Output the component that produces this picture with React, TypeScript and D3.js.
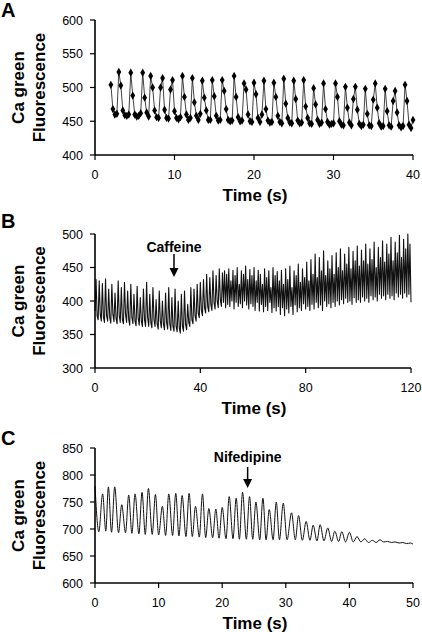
import React from "react";
import * as d3 from "d3";

// ---------- Panel A data (t = 2 s + 0.25 s * index) ----------
const aStart = 2;
const aStep = 0.25;
const aValues = [
  504, 468, 460, 461, 523, 503, 466, 459, 458, 460,
  522, 488, 460, 457, 458, 462, 522, 485, 463, 457,
  517, 500, 466, 456, 455, 500, 514, 467, 455, 454,
  497, 511, 465, 455, 453, 456, 517, 486, 460, 452,
  455, 514, 478, 458, 452, 461, 510, 485, 466, 452,
  452, 511, 487, 458, 451, 452, 511, 495, 468, 452,
  450, 451, 517, 486, 456, 450, 451, 506, 497, 460,
  450, 449, 507, 490, 455, 449, 460, 510, 468, 451,
  448, 449, 507, 486, 458, 449, 447, 513, 476, 455,
  448, 447, 510, 483, 451, 447, 448, 511, 472, 455,
  447, 446, 499, 475, 452, 446, 448, 506, 468, 449,
  445, 446, 447, 506, 486, 450, 445, 444, 501, 470,
  448, 444, 483, 501, 467, 446, 443, 445, 498, 461,
  444, 443, 482, 506, 470, 447, 442, 443, 498, 465,
  444, 442, 480, 495, 463, 444, 441, 443, 504, 480,
  445, 440, 452,
];
const aTicksX = [0, 10, 20, 30, 40];
const aTicksY = [400, 450, 500, 550, 600];

// ---------- Panel B data (t = 0.4 s * index) ----------
const bStep = 0.4;
const bValues = [
  385, 432, 378, 372, 430, 380, 370, 426, 376, 368, 433, 378, 370, 418, 375, 367, 425, 380, 369, 412, 374, 366, 430, 378, 368,
  420, 372, 366, 428, 380, 368, 415, 372, 364, 425, 376, 366, 410, 370, 363, 422, 374, 364, 405, 370, 362, 418, 372, 362, 428,
  375, 362, 410, 368, 360, 420, 372, 362, 402, 366, 358, 415, 370, 360, 400, 365, 357, 412, 368, 358, 420, 366, 356, 405, 362,
  355, 418, 362, 354, 400, 360, 352, 410, 362, 355, 415, 365, 357, 395, 368, 362, 420, 372, 366, 418, 378, 370, 425, 382, 375,
  428, 386, 378, 432, 390, 382, 440, 392, 384, 435, 395, 386, 445, 398, 388, 438, 400, 390, 448, 402, 392, 442, 398, 445, 390,
  440, 395, 448, 392, 430, 400, 446, 388, 438, 398, 450, 392, 425, 396, 445, 390, 440, 400, 452, 394, 432, 388, 447, 396, 438,
  392, 450, 386, 430, 398, 446, 385, 440, 395, 425, 384, 448, 392, 435, 386, 445, 398, 420, 383, 450, 390, 438, 385, 444, 392,
  430, 380, 446, 390, 425, 378, 448, 388, 432, 382, 452, 392, 420, 380, 445, 394, 438, 384, 455, 390, 428, 386, 448, 396, 435,
  388, 458, 392, 430, 386, 462, 395, 440, 388, 470, 398, 435, 390, 465, 394, 445, 386, 475, 400, 438, 392, 460, 396, 448, 390,
  468, 398, 440, 392, 472, 400, 450, 394, 478, 402, 445, 396, 470, 404, 455, 398, 480, 400, 448, 395, 474, 405, 460, 398, 482,
  402, 452, 398, 476, 406, 460, 400, 485, 404, 455, 398, 478, 408, 462, 402, 488, 406, 450, 400, 480, 410, 465, 404, 490, 408,
  458, 402, 485, 410, 470, 404, 495, 408, 460, 402, 488, 412, 472, 406, 498, 410, 465, 404, 492, 412, 478, 406, 500, 410, 485,
  398,
];
const bTicksX = [0, 40, 80, 120];
const bTicksY = [300, 350, 400, 450, 500];
const bCaffeineTime = 30;

// ---------- Panel C data ----------
const cTime = [
  0, 0.6, 1.2, 1.7, 2.1, 2.6, 3.1, 3.7, 4.2, 4.8,
  5.3, 5.8, 6.3, 6.9, 7.4, 7.9, 8.4, 9.0, 9.5, 10.0,
  10.6, 11.1, 11.6, 12.2, 12.7, 13.2, 13.7, 14.3, 14.8, 15.3,
  15.8, 16.4, 16.9, 17.4, 17.9, 18.5, 19.0, 19.5, 20.0, 20.6,
  21.1, 21.7, 22.2, 22.7, 23.2, 23.8, 24.3, 24.8, 25.3, 25.9,
  26.4, 26.9, 27.4, 28.0, 28.5, 29.0, 29.6, 30.2, 30.9, 31.5,
  32.0, 32.6, 33.2, 33.8, 34.3, 34.9, 35.4, 36.0, 36.6, 37.2,
  37.7, 38.3, 38.8, 39.4, 40.0, 40.6, 41.2, 41.8, 42.4, 43.0,
  43.6, 44.2, 44.8, 45.4, 46.0, 46.6, 47.2, 47.8, 48.4, 49.0,
  49.6, 50.0,
];
const cValue = [
  780, 695, 765, 696, 778, 694, 778, 693, 745, 693,
  763, 692, 765, 691, 768, 690, 775, 690, 764, 689,
  742, 688, 765, 688, 766, 687, 762, 686, 766, 686,
  742, 685, 765, 684, 738, 684, 737, 683, 740, 682,
  760, 682, 757, 681, 768, 681, 760, 681, 750, 680,
  757, 680, 736, 680, 750, 680, 748, 680, 730, 680,
  725, 679, 714, 679, 707, 678, 708, 678, 702, 677,
  696, 677, 695, 676, 694, 676, 686, 676, 682, 675,
  679, 675, 680, 676, 677, 675, 676, 674, 675, 673,
  674, 672,
];
const cTicksX = [0, 10, 20, 30, 40, 50];
const cTicksY = [600, 650, 700, 750, 800, 850];
const cNifedipineTime = 24;

const FONT = "'Liberation Sans', Arial, Helvetica, sans-serif";

type Pt = { t: number; v: number };

type PanelProps = {
  letter: string;
  letterY: number;
  pts: Pt[];
  xDomain: [number, number];
  yDomain: [number, number];
  xRange: [number, number];
  yRange: [number, number];
  ticksX: number[];
  ticksY: number[];
  markers?: boolean;
  curve?: d3.CurveFactory;
  strokeWidth: number;
  arrow?: { t: number; label: string; labelY: number; y1: number; y2: number };
};

function Panel(p: PanelProps) {
  const x = d3.scaleLinear().domain(p.xDomain).range(p.xRange);
  const y = d3.scaleLinear().domain(p.yDomain).range(p.yRange);
  const line = d3
    .line<Pt>()
    .x((d) => x(d.t))
    .y((d) => y(d.v))
    .curve(p.curve || d3.curveLinear);
  const x0 = p.xRange[0];
  const x1 = p.xRange[1];
  const yb = p.yRange[0];
  const yt = p.yRange[1];
  const midY = (yb + yt) / 2;
  const diamond = d3.symbol().type(d3.symbolDiamond).size(20)();
  return (
    <g>
      <text x={1} y={p.letterY} fontFamily={FONT} fontWeight="bold" fontSize={20}>
        {p.letter}
      </text>
      <text
        transform={`translate(23.5,${midY}) rotate(-90)`}
        textAnchor="middle"
        fontFamily={FONT}
        fontWeight="bold"
        fontSize={17}
      >
        Ca green
      </text>
      <text
        transform={`translate(44.5,${midY}) rotate(-90)`}
        textAnchor="middle"
        fontFamily={FONT}
        fontWeight="bold"
        fontSize={17}
      >
        Fluorescence
      </text>
      <path d={line(p.pts) || ""} fill="none" stroke="#111" strokeWidth={p.strokeWidth} strokeLinejoin="round" />
      {p.markers &&
        p.pts.map((d, i) => (
          <path key={i} d={diamond} transform={`translate(${x(d.t)},${y(d.v)})`} fill="#000" />
        ))}
      <line x1={x0} x2={x0} y1={yt} y2={yb} stroke="#000" strokeWidth={1.6} />
      <line x1={x0} x2={x1} y1={yb} y2={yb} stroke="#000" strokeWidth={1.6} />
      {p.ticksY.map((v) => (
        <g key={"y" + v}>
          <line x1={x0 - 5} x2={x0} y1={y(v)} y2={y(v)} stroke="#000" strokeWidth={1.2} />
          <text x={x0 - 12} y={y(v) + 4.5} textAnchor="end" fontFamily={FONT} fontSize={12.5}>
            {v}
          </text>
        </g>
      ))}
      {p.ticksX.map((v) => (
        <g key={"x" + v}>
          <line x1={x(v)} x2={x(v)} y1={yb} y2={yb + 5} stroke="#000" strokeWidth={1.2} />
          <text x={x(v)} y={yb + 24} textAnchor="middle" fontFamily={FONT} fontSize={12.5}>
            {v}
          </text>
        </g>
      ))}
      <text x={(x0 + x1) / 2 + 1} y={yb + 46} textAnchor="middle" fontFamily={FONT} fontWeight="bold" fontSize={17}>
        Time (s)
      </text>
      {p.arrow && (
        <g>
          <text x={x(p.arrow.t)} y={p.arrow.labelY} textAnchor="middle" fontFamily={FONT} fontWeight="bold" fontSize={14}>
            {p.arrow.label}
          </text>
          <line x1={x(p.arrow.t)} x2={x(p.arrow.t)} y1={p.arrow.y1} y2={p.arrow.y2 - 6} stroke="#000" strokeWidth={1.5} />
          <path
            d={`M${x(p.arrow.t) - 4.5},${p.arrow.y2 - 9} L${x(p.arrow.t) + 4.5},${p.arrow.y2 - 9} L${x(p.arrow.t)},${p.arrow.y2} Z`}
            fill="#000"
          />
        </g>
      )}
    </g>
  );
}

export default function App() {
  const aPts: Pt[] = aValues.map((v, i) => ({ t: aStart + i * aStep, v }));
  const bPts: Pt[] = bValues.map((v, i) => ({ t: i * bStep, v }));
  const cPts: Pt[] = cTime.map((t, i) => ({ t, v: cValue[i] }));
  return (
    <div style={{ position: "absolute", left: 0, top: 0 }}>
      <svg width={422} height={632} style={{ display: "block", background: "#fff" }}>
        <Panel
          letter="A"
          letterY={17}
          pts={aPts}
          xDomain={[0, 40]}
          yDomain={[400, 600]}
          xRange={[95, 413]}
          yRange={[155, 20]}
          ticksX={aTicksX}
          ticksY={aTicksY}
          markers
          strokeWidth={0.8}
        />
        <Panel
          letter="B"
          letterY={228}
          pts={bPts}
          xDomain={[0, 120]}
          yDomain={[300, 500]}
          xRange={[95, 411]}
          yRange={[368, 234]}
          ticksX={bTicksX}
          ticksY={bTicksY}
          strokeWidth={1.1}
          arrow={{ t: bCaffeineTime, label: "Caffeine", labelY: 252, y1: 254, y2: 277 }}
        />
        <Panel
          letter="C"
          letterY={445}
          pts={cPts}
          xDomain={[0, 50]}
          yDomain={[600, 850]}
          xRange={[95, 413]}
          yRange={[583, 448]}
          ticksX={cTicksX}
          ticksY={cTicksY}
          curve={d3.curveMonotoneX}
          strokeWidth={1}
          arrow={{ t: cNifedipineTime, label: "Nifedipine", labelY: 462, y1: 467, y2: 488 }}
        />
      </svg>
    </div>
  );
}
